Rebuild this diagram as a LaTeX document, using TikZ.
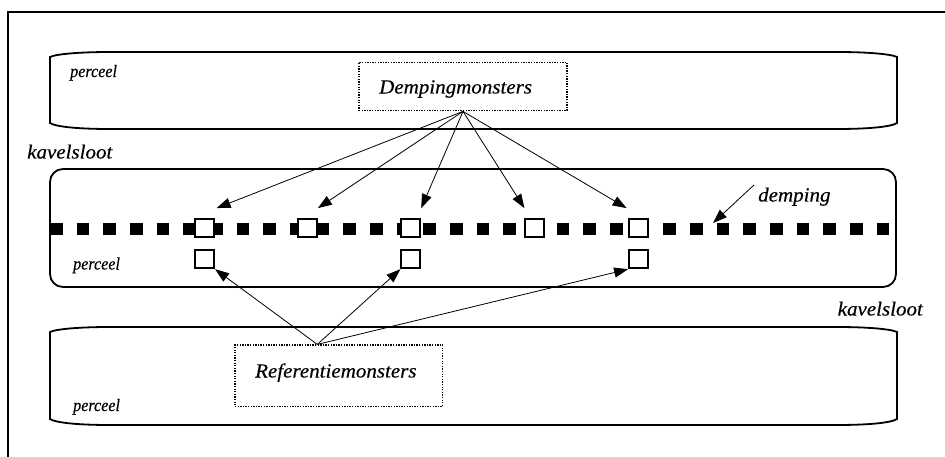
\documentclass[tikz,border=0pt]{standalone}
\usepackage{fontspec}
\setmainfont{Liberation Serif}
\newfontfamily\labfont[FakeStretch=1.05, FakeBold=0.4]{Liberation Serif}
\newfontfamily\plotfont[FakeStretch=0.92, FakeBold=0.3]{Liberation Serif}
\usetikzlibrary{arrows.meta}

\tikzset{
  frameline/.style={line width=1.8pt},
  stripline/.style={line width=1.8pt},
  dotbox/.style={draw, line width=1.3pt, dash pattern=on 1.3pt off 1.3pt, inner sep=0pt, fill=white},
  sample/.style={draw, fill=white, line width=1.8pt, minimum width=19pt, minimum height=18pt, inner sep=0pt},
  biglabel/.style={inner sep=0pt, anchor=base west, font=\labfont\itshape\fontsize{20pt}{22pt}\selectfont},
  smalllabel/.style={inner sep=0pt, anchor=base west, font=\plotfont\itshape\fontsize{17.5pt}{19pt}\selectfont},
  arr/.style={line width=0.8pt, -{Triangle[length=14pt, width=10pt]}},
}

% flat strip with shallow elliptic ends: left, right, top, bottom
\newcommand{\perceelstrip}[4]{%
  \draw[stripline]
    (#1,#3+5) .. controls (#1+6,#3+2) and (#1+30,#3) .. (#1+60,#3)
    -- (#2-60,#3) .. controls (#2-30,#3) and (#2-6,#3+2) .. (#2,#3+5)
    -- (#2,#4-6) .. controls (#2-6,#4-2) and (#2-30,#4) .. (#2-60,#4)
    -- (#1+60,#4) .. controls (#1+30,#4) and (#1+6,#4-2) .. (#1,#4-6)
    -- cycle;}

\begin{document}
\begin{tikzpicture}[x=1pt,y=-1pt]
\useasboundingbox (0,0) rectangle (945,457);

% outer frame (only its left and top sides lie on the page)
\draw[frameline] (8,460) -- (8,12) -- (950,12);

% the three parcels
\perceelstrip{50}{897}{52}{129}
\perceelstrip{50}{897}{327}{425}
\draw[stripline, rounded corners=13pt] (50,169) rectangle (896,287);

% the filled-in ditch
\draw[line width=12.5pt, dash pattern=on 12.5pt off 14.17pt] (50,229) -- (890,229);

% sample boxes
\node[dotbox, minimum width=208pt, minimum height=48.5pt] (dm) at (463,86.5) {};
\node[biglabel] (dmtext) at (379,93.5) {Dempingmonsters};
\node[dotbox, minimum width=207.5pt, minimum height=61.5pt] (rm) at (338.8,375.8) {};
\node[biglabel] (rmtext) at (255,377.5) {Referentiemonsters};

% sample points on the filled ditch
\node[sample] (u1) at (204.7,228) {};
\node[sample] (u2) at (307.5,228) {};
\node[sample] (u3) at (410.8,228) {};
\node[sample] (u4) at (534.8,228) {};
\node[sample] (u5) at (638.5,228) {};
% reference points in the parcel
\node[sample] (l1) at (204.7,259.3) {};
\node[sample] (l2) at (410.8,259.3) {};
\node[sample] (l3) at (638.5,259.3) {};

% labels
\node[smalllabel] (p1) at (70,77) {perceel};
\node[smalllabel] (p2) at (73,269.5) {perceel};
\node[smalllabel] (p3) at (73,411) {perceel};
\node[biglabel] (k1) at (27,158.5) {kavelsloot};
\node[biglabel] (k2) at (837.5,315.5) {kavelsloot};
\node[biglabel] (dl) at (758,201.5) {demping};

% arrows from the sample groups
\draw[arr] (dm.south) -- ([xshift=1.5pt,yshift=10pt]u1.north east);
\draw[arr] (dm.south) -- ([yshift=10pt]u2.north east);
\draw[arr] (dm.south) -- ([yshift=10pt]u3.north east);
\draw[arr] (dm.south) -- ([yshift=10pt]u4.north west);
\draw[arr] (dm.south) -- ([xshift=-1.5pt,yshift=10pt]u5.north west);

\coordinate (rsrc) at ([xshift=-21.5pt]rm.north);
\draw[arr] (rsrc) -- (l1.south east);
\draw[arr] (rsrc) -- (l2.south west);
\draw[arr] (rsrc) -- (l3.south west);

\coordinate (dstart) at (754,185);
\coordinate (dtip) at (713,223);
\draw[arr] (dstart) -- (dtip);
\end{tikzpicture}
\end{document}
